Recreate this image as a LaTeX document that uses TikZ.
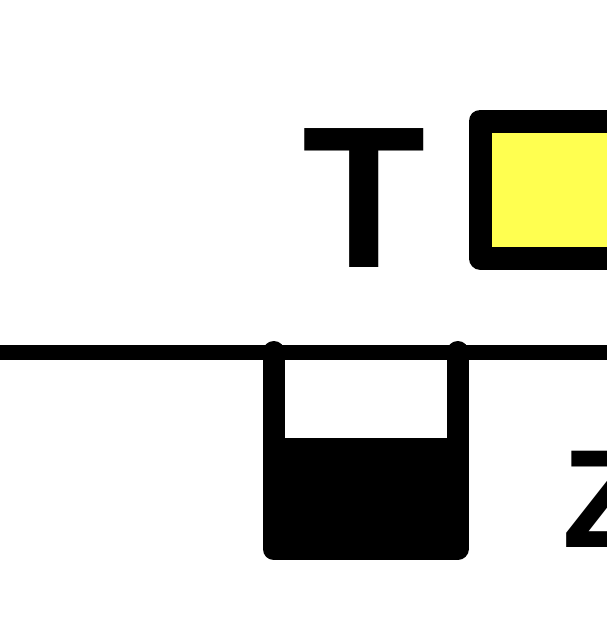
\documentclass[tikz,border=0pt]{standalone}
\usepackage{fontspec}
\setmainfont{Liberation Sans}
\definecolor{boxyellow}{RGB}{255,255,80}
\begin{document}
\begin{tikzpicture}[x=1pt,y=-1pt,
  heavy/.style={line width=#1, line join=round},
  lbl/.style={inner sep=0pt, font=\bfseries}]
\useasboundingbox (0,0) rectangle (607,640);
\clip (0,0) rectangle (607,640);
% yellow box
\draw[heavy=23pt, fill=boxyellow] (480,121) rectangle (660,258);
% horizontal line
\coordinate (l0) at (-10,352);
\coordinate (l1) at (620,352);
\draw[line width=15pt] (l0) -- (l1);
% container
\fill (273.5,438) rectangle (457.5,549);
\draw[heavy=22pt, line cap=round] (273.5,352) -- (273.5,549) -- (457.5,549) -- (457.5,352);
% labels
\node[lbl, anchor=base, font=\bfseries\fontsize{202}{202}\selectfont] (T) at (364,267) {T};
\node[lbl, anchor=base west, font=\bfseries\fontsize{140}{140}\selectfont] (Z) at (562,547) {Z};
\end{tikzpicture}
\end{document}
